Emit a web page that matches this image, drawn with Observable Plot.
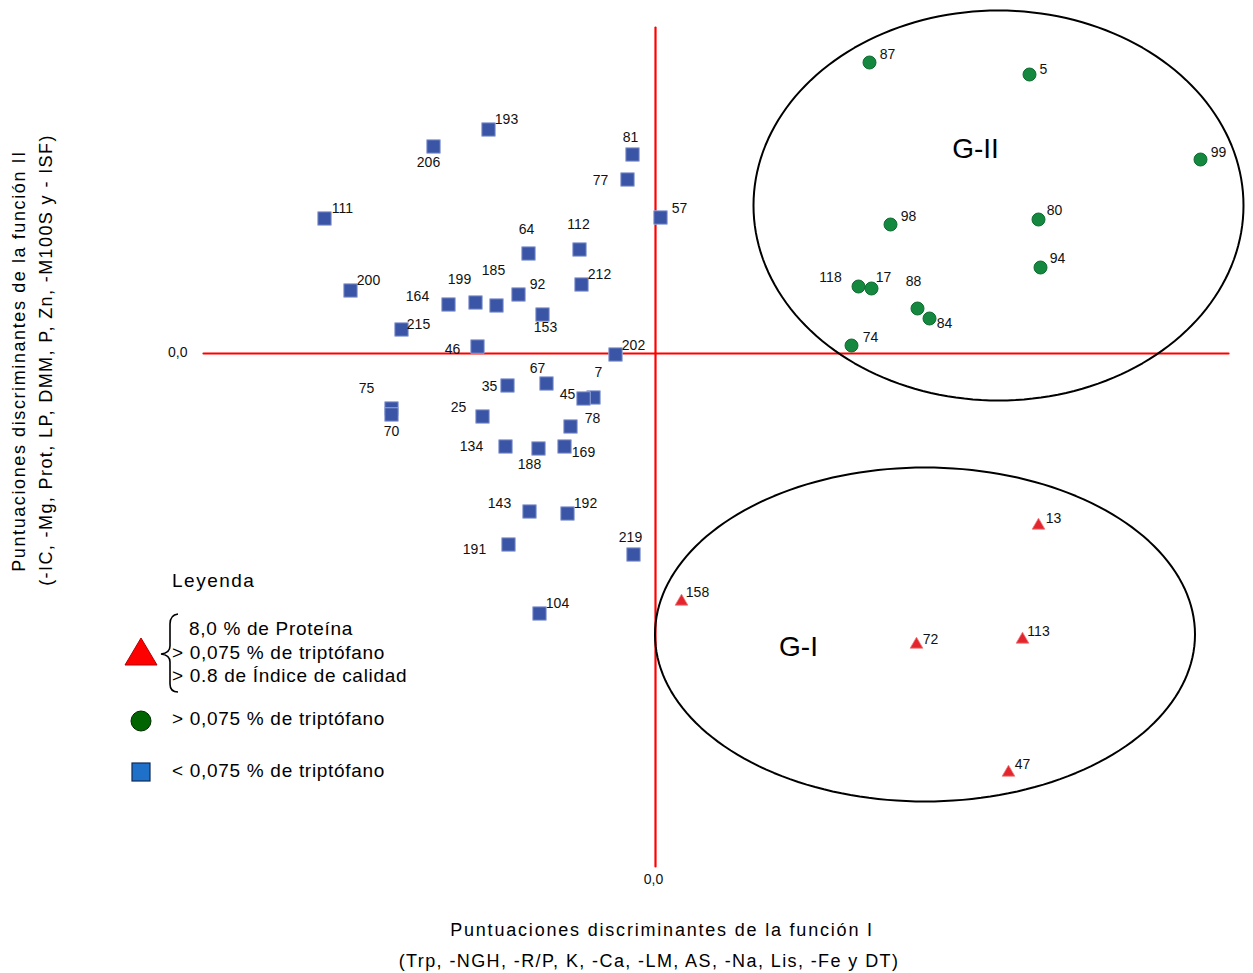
<!DOCTYPE html>
<html><head><meta charset="utf-8">
<script src="https://cdn.jsdelivr.net/npm/d3@7"></script>
<script src="https://cdn.jsdelivr.net/npm/@observablehq/plot@0.6"></script>
<style>
body{margin:0;background:#fff;font-family:"Liberation Sans",Arial,sans-serif;}
#wrap{position:relative;width:1253px;height:973px;overflow:hidden;}
#over{position:absolute;left:0;top:0;pointer-events:none;}
</style></head>
<body><div id="wrap"><div id="chart"></div>
<svg id="over" width="1253" height="973" font-family="Liberation Sans, Arial, sans-serif">
  <text x="662" y="931" font-size="18" letter-spacing="1.8" text-anchor="middle" dominant-baseline="middle">Puntuaciones discriminantes de la función I</text>
  <text x="649" y="962" font-size="18" letter-spacing="1.4" text-anchor="middle" dominant-baseline="middle">(Trp, -NGH, -R/P, K, -Ca, -LM, AS, -Na, Lis, -Fe y DT)</text>
  <text transform="translate(20,361) rotate(-90)" font-size="18" letter-spacing="1.6" text-anchor="middle" dominant-baseline="middle">Puntuaciones discriminantes de la función II</text>
  <text transform="translate(47,360) rotate(-90)" font-size="18" letter-spacing="1.4" text-anchor="middle" dominant-baseline="middle">(-IC, -Mg, Prot, LP, DMM, P, Zn, -M100S y - ISF)</text>
  <text x="172" y="582" font-size="19" letter-spacing="1.5" dominant-baseline="middle">Leyenda</text>
  <path d="M125,665 L157,665 L141,638 Z" fill="#ff0000" stroke="#b00000" stroke-width="1"/>
  <path d="M178,614 Q170,615 170,624 L170,646 Q170,653 161,654 Q170,655 170,662 L170,684 Q170,692 178,692" fill="none" stroke="#000" stroke-width="1.6"/>
  <text x="189" y="630" font-size="19" letter-spacing="0.7" dominant-baseline="middle">8,0 % de Proteína</text>
  <text x="172" y="654" font-size="19" letter-spacing="0.7" dominant-baseline="middle">&gt; 0,075 % de triptófano</text>
  <text x="172" y="677" font-size="19" letter-spacing="0.7" dominant-baseline="middle">&gt; 0.8 de Índice de calidad</text>
  <circle cx="141" cy="721" r="10" fill="#006400" stroke="#002a00" stroke-width="1"/>
  <text x="172" y="720" font-size="19" letter-spacing="0.7" dominant-baseline="middle">&gt; 0,075 % de triptófano</text>
  <rect x="132" y="763" width="18" height="18" fill="#1f70c8" stroke="#0c2a55" stroke-width="1.2"/>
  <text x="172" y="772" font-size="19" letter-spacing="0.7" dominant-baseline="middle">&lt; 0,075 % de triptófano</text>
</svg>
</div>
<script>
// ---- Data: discriminant scores (function I, function II) ----
const blueIds = [193,206,81,77,111,57,64,112,200,212,164,199,185,92,153,215,46,202,67,35,7,45,75,70,25,78,134,188,169,143,192,191,219,104];
const blueX = [-1.67,-2.22,-0.23,-0.28,-3.31,0.05,-1.27,-0.76,-3.05,-0.74,-2.07,-1.80,-1.59,-1.37,-1.13,-2.54,-1.78,-0.40,-1.09,-1.48,-0.62,-0.72,-2.64,-2.64,-1.73,-0.85,-1.50,-1.17,-0.91,-1.26,-0.88,-1.47,-0.22,-1.16];
const blueY = [2.24,2.07,1.99,1.74,1.35,1.36,1.00,1.04,0.63,0.69,0.49,0.51,0.48,0.59,0.39,0.24,0.07,-0.01,-0.30,-0.32,-0.44,-0.45,-0.55,-0.61,-0.63,-0.73,-0.93,-0.95,-0.93,-1.58,-1.60,-1.91,-2.01,-2.60];

const greenIds = [87,5,99,98,80,94,118,17,88,84,74];
const greenX = [2.14,3.74,5.45,2.35,3.83,3.85,2.03,2.16,2.62,2.74,1.96];
const greenY = [2.91,2.79,1.94,1.29,1.34,0.86,0.67,0.65,0.45,0.35,0.08];

const redIds = [13,158,72,113,47];
const redX = [3.83,0.26,2.61,3.67,3.53];
const redY = [-1.72,-2.48,-2.91,-2.86,-4.19];

// group ellipses
const groupNames = ["G-II","G-I"];
const groupCx = [3.43, 2.695];
const groupCy = [1.48, -2.81];
const groupRx = [2.45, 2.70];
const groupRy = [1.95, 1.67];
const groupLabelX = [3.20, 1.43];
const groupLabelY = [2.04, -2.94];

// reference axes extent
const hLineX = [-4.52, 5.73];
const vLineY = [3.26, -5.13];
const zeroTick = "0,0";

// label placement (px offsets from marker)
const labelOffset = {
  193:[18,-10],206:[-5,16],81:[-2,-17],77:[-27,1],111:[18,-10],57:[19,-9],64:[-2,-24],112:[-1,-25],
  200:[18,-10],212:[18,-10],164:[-31,-8],199:[-16,-23],185:[-3,-35],92:[19,-10],153:[3,13],215:[17,-5],
  46:[-25,3],202:[18,-9],67:[-9,-15],35:[-18,1],7:[5,-25],45:[-16,-4],75:[-25,-20],70:[0,17],25:[-24,-9],
  78:[22,-8],134:[-34,0],188:[-9,16],169:[19,6],143:[-30,-8],192:[18,-10],191:[-34,5],219:[-3,-17],104:[18,-10],
  87:[18,-8],5:[14,-5],99:[18,-7],98:[18,-8],80:[16,-9],94:[17,-9],118:[-28,-9],17:[12,-11],88:[-4,-27],84:[15,5],74:[19,-8],
  13:[15,-7],158:[16,-9],72:[14,-5],113:[16,-8],47:[14,-8]
};

const blue = blueIds.map((id,i)=>({id, x:blueX[i], y:blueY[i]}));
const green = greenIds.map((id,i)=>({id, x:greenX[i], y:greenY[i]}));
const red = redIds.map((id,i)=>({id, x:redX[i], y:redY[i]}));
const groups = groupNames.map((name,i)=>({name, cx:groupCx[i], cy:groupCy[i], rx:groupRx[i], ry:groupRy[i], lx:groupLabelX[i], ly:groupLabelY[i]}));

// ellipse outlines (annotation geometry from centre & radii)
const ellipsePts = groups.flatMap(g => d3.range(0, 361, 2).map(a => ({
  name: g.name,
  x: g.cx + g.rx * Math.cos(a * Math.PI / 180),
  y: g.cy + g.ry * Math.sin(a * Math.PI / 180)
})));

const labelMarks = [...blue, ...green, ...red].map(p => Plot.text([p], {
  x:"x", y:"y", text:d=>String(d.id), dx: labelOffset[p.id][0], dy: labelOffset[p.id][1],
  fontSize: 14, fill:"#111", textAnchor:"middle"
}));

const chart = Plot.plot({
  width: 1253, height: 973, margin: 0,
  x: {domain: [-6.55, 5.98], axis: null},
  y: {domain: [-6.20, 3.53], axis: null},
  style: {fontFamily: "Liberation Sans, Arial, sans-serif", background: "white"},
  marks: [
    Plot.line([{x:hLineX[0], y:0},{x:hLineX[1], y:0}], {x:"x", y:"y", stroke:"#ff0000", strokeWidth:2.2}),
    Plot.line([{x:0, y:vLineY[0]},{x:0, y:vLineY[1]}], {x:"x", y:"y", stroke:"#ff0000", strokeWidth:2.2}),
    Plot.line(ellipsePts, {x:"x", y:"y", z:"name", stroke:"#000", strokeWidth:2, curve:"linear-closed"}),
    Plot.dot(blue, {x:"x", y:"y", symbol:"square", r:7.6, fill:"#3b55a6", stroke:"#9aa8d8", strokeWidth:1}),
    Plot.dot(green, {x:"x", y:"y", symbol:"circle", r:6.5, fill:"#15883f", stroke:"#0c6a2e", strokeWidth:1}),
    Plot.dot(red, {x:"x", y:"y", symbol:"triangle", r:4.7, fill:"#e3252d", stroke:"#ee7777", strokeWidth:0.8}),
    ...labelMarks,
    Plot.text(groups, {x:"lx", y:"ly", text:"name", fontSize:28, fill:"#000", textAnchor:"middle"}),
    Plot.text([{x:hLineX[0], y:0}], {x:"x", y:"y", text:()=>zeroTick, dx:-16, dy:-1, textAnchor:"end", fontSize:14, fill:"#111"}),
    Plot.text([{x:0, y:vLineY[1]}], {x:"x", y:"y", text:()=>zeroTick, dx:-2, dy:13, textAnchor:"middle", fontSize:14, fill:"#111"})
  ]
});
document.getElementById("chart").appendChild(chart);
</script>
</body></html>
